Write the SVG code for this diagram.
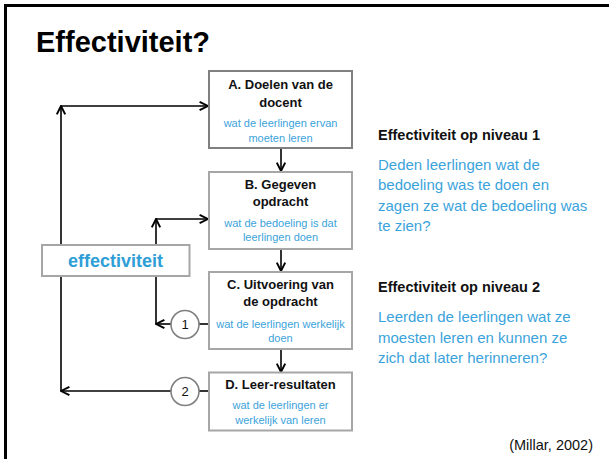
<svg xmlns="http://www.w3.org/2000/svg" width="609" height="459" viewBox="0 0 609 459">
<defs>
<style>
.box{fill:#fff;stroke:#808080;stroke-width:2}
.boxl{fill:#fff;stroke:#a6a6a6;stroke-width:2}
.h{font-family:"Liberation Sans",Arial,sans-serif;font-weight:bold;font-size:13px;fill:#111;text-anchor:middle}
.s{font-family:"Liberation Sans",Arial,sans-serif;font-size:11px;fill:#3ba3db;text-anchor:middle}
.c{stroke:#000;stroke-width:1.6;fill:none}
.circ{fill:#fff;stroke:#7f7f7f;stroke-width:1.6}
.n{font-family:"Liberation Sans",Arial,sans-serif;font-size:13px;fill:#111;text-anchor:middle}
.rh{font-family:"Liberation Sans",Arial,sans-serif;font-weight:bold;font-size:14.5px;fill:#111}
.rb{font-family:"Liberation Sans",Arial,sans-serif;font-size:15px;fill:#3ba3db}
</style>
<marker id="arr" markerUnits="userSpaceOnUse" markerWidth="12" markerHeight="12" viewBox="0 0 10 10" refX="9" refY="5" orient="auto">
<path d="M2,1.5 L9,5 L2,8.5" fill="none" stroke="#000" stroke-width="1.6"/>
</marker>
</defs>
<rect width="609" height="459" fill="#fff"/>
<g id="frame">
<line x1="4" y1="5.5" x2="609" y2="5.5" stroke="#000" stroke-width="3"/>
<line x1="5.5" y1="4" x2="5.5" y2="459" stroke="#000" stroke-width="3"/>
</g>
<text x="36" y="52" style="font-family:'Liberation Sans',Arial,sans-serif;font-weight:bold;font-size:29px;fill:#000">Effectiviteit?</text>
<g id="connectors">
<line class="c" x1="281" y1="148" x2="281" y2="171" marker-end="url(#arr)"/>
<line class="c" x1="281" y1="249" x2="281" y2="271" marker-end="url(#arr)"/>
<line class="c" x1="281" y1="349" x2="281" y2="372" marker-end="url(#arr)"/>
<line class="c" x1="61" y1="391" x2="61" y2="106" marker-end="url(#arr)"/>
<line class="c" x1="61" y1="106" x2="208" y2="106" marker-end="url(#arr)"/>
<line class="c" x1="171" y1="391" x2="61" y2="391" marker-end="url(#arr)"/>
<line class="c" x1="199" y1="391" x2="209" y2="391"/>
<line class="c" x1="156" y1="324" x2="156" y2="219" marker-end="url(#arr)"/>
<line class="c" x1="156" y1="219" x2="208" y2="219" marker-end="url(#arr)"/>
<line class="c" x1="171" y1="324" x2="156" y2="324" marker-end="url(#arr)"/>
<line class="c" x1="199" y1="324" x2="209" y2="324"/>
</g>
<g id="nodeA">
<rect class="box" x="209" y="71" width="143" height="77"/>
<text class="h" x="280.5" y="89">A.  Doelen van de</text>
<text class="h" x="280.5" y="106.5">docent</text>
<text class="s" x="280.5" y="127">wat de leerlingen ervan</text>
<text class="s" x="280.5" y="142">moeten leren</text>
</g>
<g id="nodeB">
<rect class="boxl" x="209" y="172" width="143" height="77"/>
<text class="h" x="280.5" y="189">B.  Gegeven</text>
<text class="h" x="280.5" y="206">opdracht</text>
<text class="s" x="280.5" y="227">wat de bedoeling is dat</text>
<text class="s" x="280.5" y="241">leerlingen doen</text>
</g>
<g id="nodeC">
<rect class="boxl" x="209" y="272" width="143" height="77"/>
<text class="h" x="280.5" y="288.5">C.  Uitvoering van</text>
<text class="h" x="280.5" y="306">de opdracht</text>
<text class="s" x="280.5" y="327.5">wat de leerlingen werkelijk</text>
<text class="s" x="280.5" y="341.5">doen</text>
</g>
<g id="nodeD">
<rect class="boxl" x="209" y="372.5" width="143" height="58"/>
<text class="h" x="280.5" y="389">D.  Leer-resultaten</text>
<text class="s" x="280.5" y="408.5">wat de leerlingen er</text>
<text class="s" x="280.5" y="423.5">werkelijk van leren</text>
</g>
<g id="effectiviteit">
<rect class="boxl" x="42" y="245" width="147.5" height="31"/>
<text x="115.5" y="267" style="font-family:'Liberation Sans',Arial,sans-serif;font-weight:bold;font-size:18px;fill:#2e9ed6;text-anchor:middle">effectiviteit</text>
</g>
<g id="circle1">
<circle class="circ" cx="185" cy="324.5" r="14"/>
<text class="n" x="185" y="329">1</text>
</g>
<g id="circle2">
<circle class="circ" cx="185" cy="391.5" r="14"/>
<text class="n" x="185" y="396">2</text>
</g>
<g id="level1">
<text class="rh" x="378" y="139.5">Effectiviteit op niveau 1</text>
<text class="rb" x="378" y="169.5">Deden leerlingen wat de</text>
<text class="rb" x="378" y="190">bedoeling was te doen en</text>
<text class="rb" x="378" y="210.5">zagen ze wat de bedoeling was</text>
<text class="rb" x="378" y="231">te zien?</text>
</g>
<g id="level2">
<text class="rh" x="378" y="292">Effectiviteit op niveau 2</text>
<text class="rb" x="378" y="322">Leerden de leerlingen wat ze</text>
<text class="rb" x="378" y="342.5">moesten leren en kunnen ze</text>
<text class="rb" x="378" y="363">zich dat later herinneren?</text>
</g>
<text x="593" y="450" style="font-family:'Liberation Sans',Arial,sans-serif;font-size:14.5px;fill:#111;text-anchor:end">(Millar, 2002)</text>
</svg>
